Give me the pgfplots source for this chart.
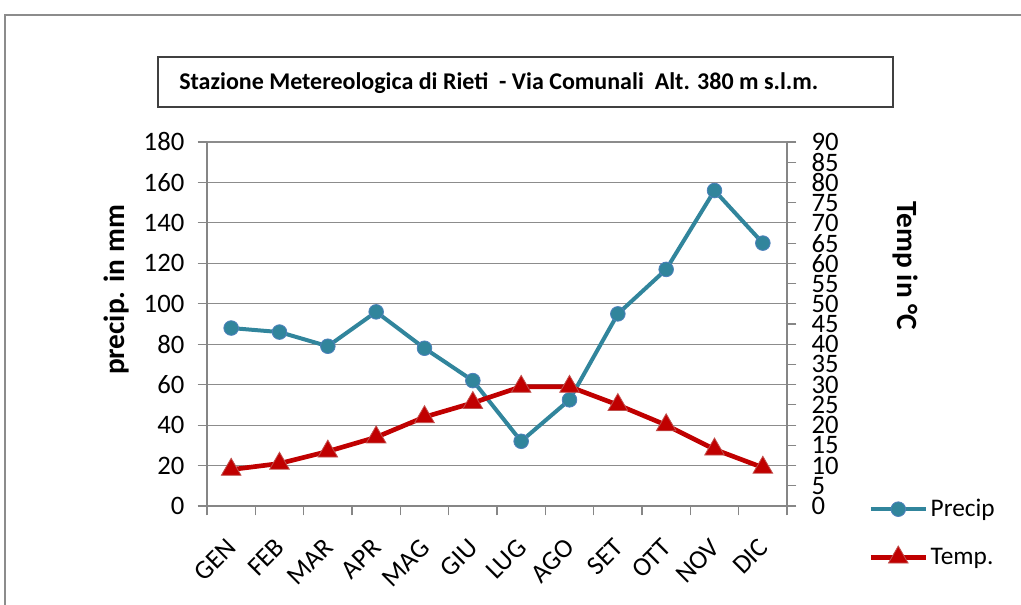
\documentclass[border=0pt]{standalone}
\usepackage{pgfplots}
\pgfplotsset{compat=1.18}
\usepackage{fontspec}
\setmainfont{Carlito}
\definecolor{precip}{HTML}{31859C}
\definecolor{precipedge}{HTML}{4F81BD}
\definecolor{temp}{HTML}{C00000}
\definecolor{tempedge}{HTML}{C0504D}
\definecolor{axisgray}{HTML}{868686}
\definecolor{gridgray}{HTML}{8C8C8C}
\definecolor{framegray}{HTML}{8C8C8C}
\definecolor{titlegray}{HTML}{404040}
\begin{document}
\begin{tikzpicture}[x=0.75pt,y=0.75pt]
\path[use as bounding box] (0,0) rectangle (1021,605);
\draw[line width=1.5pt, draw=framegray] (5,0) -- (5,590) -- (1021,590);
\draw[line width=1.4pt, draw=titlegray] (158,498) rectangle (893,548);
\node[anchor=west, inner sep=0pt, font=\fontsize{18}{21}\selectfont\bfseries] at (179,522) {Stazione Metereologica di Rieti\ \ - Via Comunali\ \ Alt. 380 m s.l.m.};
\node[rotate=90, font=\fontsize{22}{26}\selectfont\bfseries] at (117,315) {precip. in mm};
\node[rotate=-90, font=\fontsize{22}{26}\selectfont\bfseries] at (905,339) {Temp in °C};

\pgfplotsset{
  precipstyle/.style={precip, line width=3pt, mark=*, mark size=5.5pt, mark options={fill=precip, draw=precipedge, line width=0.6pt, solid}},
  tempstyle/.style={temp, line width=3.5pt, mark=triangle*, mark size=8.5pt, mark options={fill=temp, draw=tempedge, line width=0.6pt, solid}},
}

\begin{axis}[
  at={(155.25pt,74.25pt)}, anchor=south west,
  scale only axis, width=435pt, height=273pt,
  xmin=0.5, xmax=12.5, ymin=0, ymax=180,
  axis x line*=bottom, axis y line*=left,
  axis line style={draw=axisgray, line width=0.9pt},
  tick align=outside,
  major tick length=7pt,
  tick style={draw=axisgray, line width=0.9pt},
  xtick={0.5,1.5,...,12.5}, xticklabels={},
  extra x ticks={1,2,...,12},
  extra x tick labels={GEN,FEB,MAR,APR,MAG,GIU,LUG,AGO,SET,OTT,NOV,DIC},
  extra x tick style={major tick length=0pt, tick label style={yshift=-25.5pt, xshift=3pt, rotate=45, anchor=east, font=\fontsize{20}{23}\selectfont}},
  ytick={0,20,...,180},
  ymajorgrids, grid style={draw=gridgray, line width=0.9pt},
  yticklabel style={xshift=-6.5pt, font=\fontsize{20}{24}\selectfont},
  /pgf/number format/assume math mode=true,
  clip=false,
]
\addplot[precipstyle] coordinates {(1,88) (2,86) (3,79) (4,96) (5,78) (6,62) (7,32) (8,52.5) (9,95) (10,117) (11,156) (12,130)};
\end{axis}

\begin{axis}[
  at={(155.25pt,74.25pt)}, anchor=south west,
  scale only axis, width=435pt, height=273pt,
  xmin=0.5, xmax=12.5, ymin=0, ymax=90,
  axis x line=none, axis y line*=right,
  axis line style={draw=axisgray, line width=0.9pt},
  tick align=outside,
  major tick length=7pt,
  tick style={draw=axisgray, line width=0.9pt},
  ytick={0,5,...,90},
  yticklabel style={xshift=8pt, font=\fontsize{20}{24}\selectfont},
  /pgf/number format/assume math mode=true,
  clip=false,
  legend style={at={(axis description cs:1.14,0.026)}, anchor=north west, draw=none, fill=none,
    font=\fontsize{19}{22}\selectfont, row sep=18pt, inner sep=0pt},
  legend cell align=left,
  legend image code/.code={\draw[mark repeat=2, mark phase=2] plot coordinates {(0pt,0pt) (20.6pt,0pt) (41.2pt,0pt)};},
]
\addlegendimage{precipstyle}
\addlegendentry{Precip}
\addplot[tempstyle] coordinates {(1,9) (2,10.5) (3,13.5) (4,17) (5,22) (6,25.5) (7,29.5) (8,29.5) (9,25) (10,20) (11,14) (12,9.5)};
\addlegendentry{Temp.}
\end{axis}
\end{tikzpicture}
\end{document}
